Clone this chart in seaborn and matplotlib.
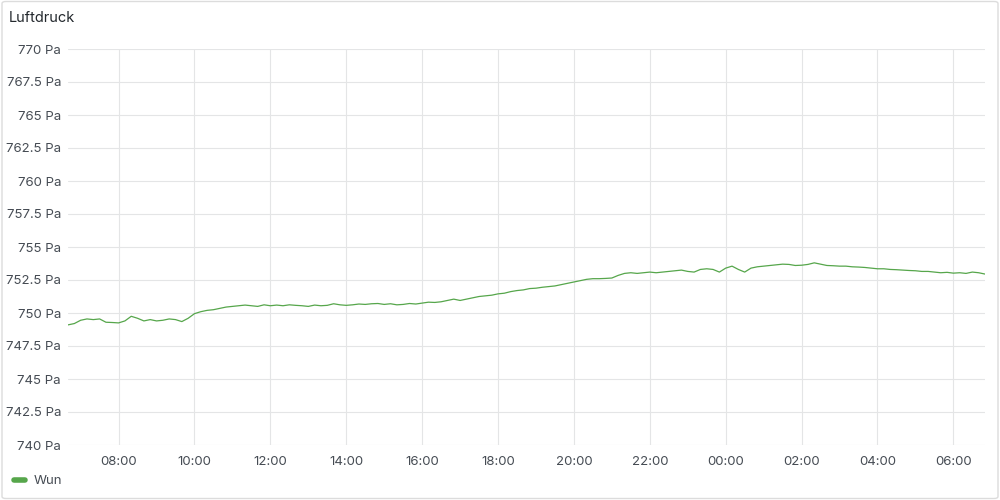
import pandas as pd
import seaborn as sns
import matplotlib.pyplot as plt
import matplotlib.dates as mdates
from matplotlib.ticker import FuncFormatter, MultipleLocator
from matplotlib.patches import FancyBboxPatch

# Luftdruck readings, one every 10 minutes from 06:40 to 06:50 next day
start_time = "2023-05-01 06:40"
pressure = [
    749.1, 749.2, 749.45, 749.55, 749.5, 749.55, 749.3, 749.28,          # 06:40-07:50
    749.25, 749.4, 749.75, 749.6, 749.4, 749.5,                           # 08:00-08:50
    749.4, 749.45, 749.55, 749.5, 749.35, 749.6,                          # 09:00
    749.95, 750.1, 750.2, 750.25, 750.35, 750.45,                         # 10:00
    750.5, 750.55, 750.6, 750.55, 750.5, 750.62,                          # 11:00
    750.55, 750.6, 750.55, 750.62, 750.58, 750.55,                        # 12:00
    750.5, 750.6, 750.55, 750.58, 750.7, 750.62,                          # 13:00
    750.58, 750.62, 750.68, 750.65, 750.7, 750.72,                        # 14:00
    750.65, 750.7, 750.62, 750.65, 750.72, 750.68,                        # 15:00
    750.75, 750.82, 750.8, 750.85, 750.95, 751.05,                        # 16:00
    750.95, 751.05, 751.15, 751.25, 751.3, 751.35,                        # 17:00
    751.45, 751.5, 751.62, 751.7, 751.75, 751.85,                         # 18:00
    751.88, 751.95, 752.0, 752.05, 752.15, 752.25,                        # 19:00
    752.35, 752.45, 752.55, 752.6, 752.6, 752.62,                         # 20:00
    752.65, 752.85, 753.0, 753.05, 753.0, 753.05,                         # 21:00
    753.1, 753.05, 753.1, 753.15, 753.2, 753.25,                          # 22:00
    753.15, 753.1, 753.3, 753.35, 753.3, 753.1,                           # 23:00
    753.4, 753.55, 753.3, 753.1, 753.4, 753.5,                            # 00:00
    753.55, 753.6, 753.65, 753.7, 753.68, 753.6,                          # 01:00
    753.62, 753.68, 753.8, 753.7, 753.6, 753.58,                          # 02:00
    753.55, 753.55, 753.5, 753.48, 753.45, 753.4,                         # 03:00
    753.35, 753.35, 753.3, 753.28, 753.25, 753.22,                        # 04:00
    753.2, 753.15, 753.15, 753.1, 753.05, 753.08,                         # 05:00
    753.02, 753.05, 753.0, 753.1, 753.05, 752.95,                         # 06:00-06:50
]
series_name = "Wun"
title = "Luftdruck"

times = pd.date_range(start_time, periods=len(pressure), freq="10min")
df = pd.DataFrame({"time": times, "value": pressure, "series": series_name})

sns.set_style("white")
plt.rcParams['font.family'] = ['Inter', 'DejaVu Sans']

line_color = "#56A64B"
text_color = "#464c54"
grid_color = "#e4e5e6"

fig = plt.figure(figsize=(10, 5), dpi=100)
ax = fig.add_axes([0.068, 0.11, 0.917, 0.792])

sns.lineplot(data=df, x="time", y="value", color=line_color, linewidth=0.9, ax=ax, legend=False)

ax.set_ylim(740, 770)
ax.yaxis.set_major_locator(MultipleLocator(2.5))
ax.yaxis.set_major_formatter(FuncFormatter(lambda v, p: f"{v:g} Pa"))
ax.set_xlim(times[0], times[-1])
ax.xaxis.set_major_locator(mdates.HourLocator(byhour=range(0, 24, 2)))
ax.xaxis.set_major_formatter(mdates.DateFormatter("%H:%M"))

ax.grid(True, color=grid_color, linewidth=0.8)
ax.set_axisbelow(True)
for s in ax.spines.values():
    s.set_visible(False)
ax.tick_params(axis="both", length=0, labelsize=9.5, colors=text_color)
ax.tick_params(axis="y", pad=5)
ax.tick_params(axis="x", pad=8)
ax.set_xlabel("")
ax.set_ylabel("")

fig.text(0.009, 0.963, title, fontsize=10.5, color="#24292e", va="center", ha="left")

handle = plt.Line2D([], [], color=line_color, linewidth=4, solid_capstyle="round")
fig.legend([handle], [series_name], loc="center left", bbox_to_anchor=(0.014, 0.038),
           frameon=False, handlelength=0.85, handletextpad=0.65, fontsize=9.5,
           borderpad=0, borderaxespad=0, labelcolor=text_color)

border = FancyBboxPatch((0.002, 0.003), 0.996, 0.994, boxstyle="round,pad=0,rounding_size=0.004",
                        transform=fig.transFigure, fill=False, edgecolor="#dcdcdc", linewidth=1)
fig.patches.append(border)

fig.savefig("out.png", dpi=100)
